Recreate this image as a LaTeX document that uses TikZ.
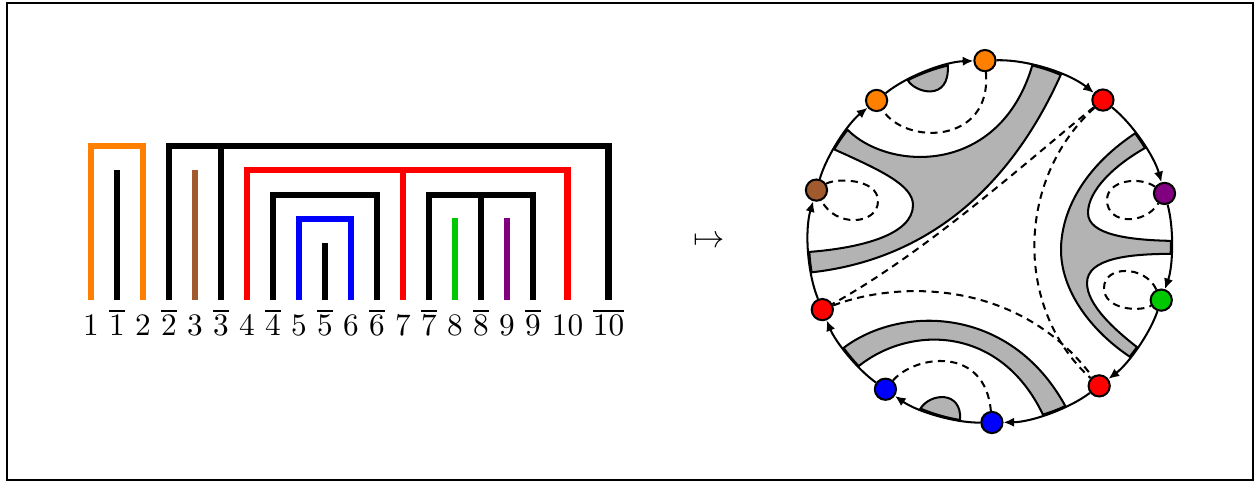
\documentclass[tikz,border=0pt]{standalone}
\usetikzlibrary{calc,arrows.meta}
\definecolor{myorange}{RGB}{255,128,0}
\definecolor{mybrown}{RGB}{160,90,45}
\definecolor{mygreen}{RGB}{0,200,0}
\definecolor{mypurple}{RGB}{128,0,128}
\definecolor{bandgray}{RGB}{179,179,179}
\begin{document}
\begin{tikzpicture}[x=0.32pt,y=0.32pt,
  bar/.style={line width=2pt, line join=miter, line cap=butt},
  blk/.style={bar, line width=2.2pt},
  lab/.style={anchor=base, inner sep=0pt},
  dot/.style={circle, draw=black, line width=0.65pt, minimum size=6.8pt, inner sep=0pt},
  carr/.style={line width=0.65pt, -{Latex[length=3.4pt,width=3pt]}},
  dsh/.style={line width=0.65pt, dash pattern=on 2.3pt off 1.7pt},
  band/.style={fill=bandgray, draw=black, line width=0.65pt},
]
\useasboundingbox (0,0) rectangle (1254,-481);
\draw[line width=0.64pt] (7,-3) rectangle (1252.5,-479.5);

% ---------- left: bracket diagram ----------
\draw[bar, myorange] (91,-300) |- (143,-146) -- (143,-300);
\draw[blk] (117,-300) -- (117,-170);
\draw[blk] (169,-300) |- (608.5,-146) -- (608.5,-300);
\draw[blk] (221,-146) -- (221,-300);
\draw[bar, mybrown] (195,-300) -- (195,-170);
\draw[bar, red] (247,-300) |- (567.5,-170) -- (567.5,-300);
\draw[bar, red] (403,-170) -- (403,-300);
\draw[blk] (273,-300) |- (377,-195) -- (377,-300);
\draw[bar, blue] (299,-300) |- (351,-219) -- (351,-300);
\draw[blk] (325,-300) -- (325,-243);
\draw[blk] (429,-300) |- (533,-195) -- (533,-300);
\draw[blk] (481,-195) -- (481,-300);
\draw[bar, mygreen] (455,-300) -- (455,-218);
\draw[bar, mypurple] (507,-300) -- (507,-218);

\node[lab] (l1)  at (91,-335.5)  {$1$};
\node[lab] (l1b) at (117,-335.5) {$\overline{1}$};
\node[lab] (l2)  at (143,-335.5) {$2$};
\node[lab] (l2b) at (169,-335.5) {$\overline{2}$};
\node[lab] (l3)  at (195,-335.5) {$3$};
\node[lab] (l3b) at (221,-335.5) {$\overline{3}$};
\node[lab] (l4)  at (247,-335.5) {$4$};
\node[lab] (l4b) at (273,-335.5) {$\overline{4}$};
\node[lab] (l5)  at (299,-335.5) {$5$};
\node[lab] (l5b) at (325,-335.5) {$\overline{5}$};
\node[lab] (l6)  at (351,-335.5) {$6$};
\node[lab] (l6b) at (377,-335.5) {$\overline{6}$};
\node[lab] (l7)  at (403,-335.5) {$7$};
\node[lab] (l7b) at (429,-335.5) {$\overline{7}$};
\node[lab] (l8)  at (455,-335.5) {$8$};
\node[lab] (l8b) at (481,-335.5) {$\overline{8}$};
\node[lab] (l9)  at (507,-335.5) {$9$};
\node[lab] (l9b) at (533,-335.5) {$\overline{9}$};
\node[lab] (l10) at (567.5,-335.5) {$10$};
\node[lab] (l10b) at (608.5,-335.5) {$\overline{10}$};

\node (mt) at (709,-242) {$\mapsto$};

% ---------- right: disc ----------
\def\R{181}
\coordinate (C) at (990,-241.5);
\coordinate (A1) at ($(C)+(141.9:\R)$);
\coordinate (A2) at ($(C)+(149.4:\R)$);
\coordinate (A3) at ($(C)+(183.3:\R)$);
\coordinate (A4) at ($(C)+(189.8:\R)$);
\coordinate (A5) at ($(C)+(67:\R)$);
\coordinate (A6) at ($(C)+(76.5:\R)$);
\coordinate (B1) at ($(C)+(36.7:\R)$);
\coordinate (B2) at ($(C)+(31.1:\R)$);
\coordinate (B3) at ($(C)+(0.2:\R)$);
\coordinate (B4) at ($(C)+(-3.9:\R)$);
\coordinate (B5) at ($(C)+(-35.7:\R)$);
\coordinate (B6) at ($(C)+(-39.5:\R)$);
\coordinate (D1) at ($(C)+(216:\R)$);
\coordinate (D2) at ($(C)+(223.5:\R)$);
\coordinate (D3) at ($(C)+(-73:\R)$);
\coordinate (D4) at ($(C)+(-65.4:\R)$);
\coordinate (E1) at ($(C)+(117:\R)$);
\coordinate (E2) at ($(C)+(103.5:\R)$);
\coordinate (F1) at ($(C)+(247.4:\R)$);
\coordinate (F2) at ($(C)+(260.5:\R)$);

% top-left Y band
\filldraw[band] (A1) arc[start angle=141.9, end angle=149.4, radius=\R]
  .. controls (880,-170) and (913,-185) .. (913,-205)
  .. controls (913,-235) and (860,-248) .. (A3)
  arc[start angle=183.3, end angle=189.8, radius=\R]
  .. controls (905,-262) and (1000,-210) .. (A5)
  arc[start angle=67, end angle=76.5, radius=\R]
  .. controls (1000,-175) and (890,-172) .. (A1) -- cycle;
% right Y band
\filldraw[band] (B1) .. controls (1080,-170) and (1061,-215) .. (1061,-250)
  .. controls (1061,-290) and (1090,-330) .. (B6)
  arc[start angle=-39.5, end angle=-35.7, radius=\R]
  .. controls (1115,-330) and (1087,-305) .. (1087,-283)
  .. controls (1087,-258) and (1130,-254) .. (B4)
  arc[start angle=-3.9, end angle=0.2, radius=\R]
  .. controls (1130,-240) and (1088,-235) .. (1088,-213)
  .. controls (1088,-190) and (1115,-165) .. (B2)
  arc[start angle=31.1, end angle=36.7, radius=\R] -- cycle;
% bottom band
\filldraw[band] (D1) .. controls (900,-305) and (1010,-305) .. (D4)
  arc[start angle=-65.4, end angle=-73, radius=\R]
  .. controls (1000,-325) and (910,-325) .. (D2)
  arc[start angle=223.5, end angle=216, radius=\R] -- cycle;
% small half discs
\filldraw[band] (E1) .. controls (915,-93) and (950,-102) .. (E2)
  arc[start angle=103.5, end angle=117, radius=\R] -- cycle;
\filldraw[band] (F1) .. controls (930,-393) and (962,-390) .. (F2)
  arc[start angle=260.5, end angle=247.4, radius=\R] -- cycle;

% marked points
\node[dot, fill=myorange] (o1)  at ($(C)+(91.6:\R)$) {};
\node[dot, fill=myorange] (o2)  at ($(C)+(128.8:\R)$) {};
\node[dot, fill=red]      (rTR) at ($(C)+(51.4:\R)$) {};
\node[dot, fill=mypurple] (pu)  at ($(C)+(15.4:\R)$) {};
\node[dot, fill=mygreen]  (gr)  at ($(C)+(-18.9:\R)$) {};
\node[dot, fill=red]      (rBR) at ($(C)+(-52.9:\R)$) {};
\node[dot, fill=blue]     (bl)  at ($(C)+(-89.4:\R)$) {};
\node[dot, fill=blue]     (bl2) at ($(C)+(-125.3:\R)$) {};
\node[dot, fill=red]      (rL)  at ($(C)+(202.1:\R)$) {};
\node[dot, fill=mybrown]  (br)  at ($(C)+(163.5:\R)$) {};

% boundary arcs with arrows
\draw[carr] (br)  .. controls +(73.5:36.8)   and +(218.8:36.8) .. (o2);
\draw[carr] (o2)  .. controls +(38.8:39.5)   and +(181.6:39.5) .. (o1);
\draw[carr] (o1)  .. controls +(1.6:42.8)    and +(141.4:42.8) .. (rTR);
\draw[carr] (rTR) .. controls +(-38.6:38.2)  and +(105.4:38.2) .. (pu);
\draw[carr] (pu)  .. controls +(-74.6:36.4)  and +(71.1:36.4)  .. (gr);
\draw[carr] (gr)  .. controls +(-108.9:36.1) and +(37.1:36.1)  .. (rBR);
\draw[carr] (rBR) .. controls +(-142.9:38.8) and +(0.6:38.8)   .. (bl);
\draw[carr] (bl)  .. controls +(-179.4:38.1) and +(-35.3:38.1) .. (bl2);
\draw[carr] (bl2) .. controls +(-215.3:34.6) and +(-67.9:34.6) .. (rL);
\draw[carr] (rL)  .. controls +(112.1:41)    and +(253.5:41)   .. (br);

% dashed arcs
\draw[dsh] (o1) .. controls (992,-145) and (905,-145) .. (o2);
\draw[dsh] (br) .. controls (835,-178) and (878,-178) .. (878,-201)
  .. controls (878,-225) and (835,-228) .. (br);
\draw[dsh] (pu) .. controls (1140,-176) and (1107,-180) .. (1107,-200)
  .. controls (1107,-225) and (1145,-225) .. (pu);
\draw[dsh] (gr) .. controls (1145,-265) and (1104,-265) .. (1104,-288)
  .. controls (1104,-310) and (1140,-312) .. (gr);
\draw[dsh] (rTR) .. controls (1040,-150) and (930,-250) .. (rL);
\draw[dsh] (rTR) .. controls (1015,-180) and (1015,-310) .. (rBR);
\draw[dsh] (rL) .. controls (900,-280) and (1020,-280) .. (rBR);
\draw[dsh] (bl2) .. controls (915,-355) and (985,-345) .. (bl);
\end{tikzpicture}
\end{document}
